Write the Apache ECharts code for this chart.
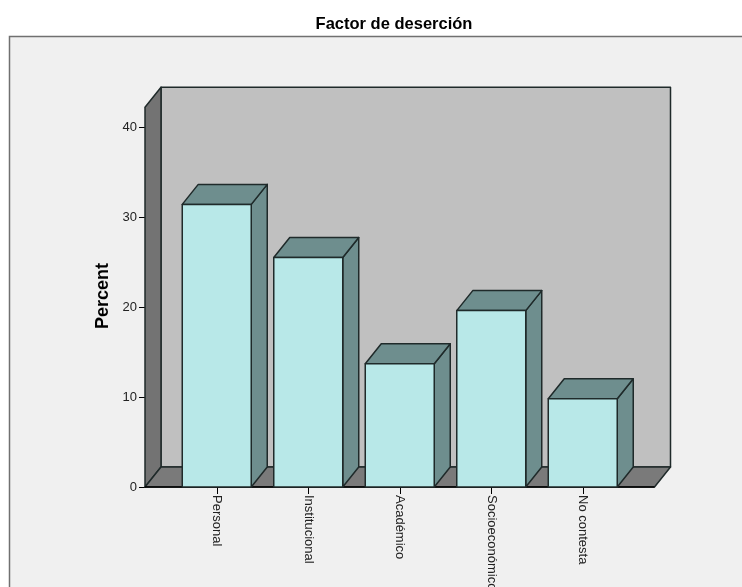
<!DOCTYPE html>
<html>
<head>
<meta charset="utf-8">
<style>
  html, body { margin: 0; padding: 0; background: #fff; overflow: hidden; }
  #main { width: 742px; height: 587px; }
</style>
<script src="https://cdn.jsdelivr.net/npm/echarts@6/dist/echarts.min.js"></script>
</head>
<body>
<div id="main"></div>
<script>
var categories = ["Personal", "Institucional", "Académico", "Socioeconómico", "No contesta"];
var percents = [31.4, 25.5, 13.7, 19.6, 9.8];

// room behind the bars, px
var depthX = 16;
var depthY = 20;
var wallExtra = 26;   // walls stick out past the first / last band
var wallTop = 42.2;
var lineColor = "#1f2a2a";

var chart = echarts.init(document.getElementById("main"));

function poly(points, fill, z2) {
  return {
    type: "polygon",
    z2: z2 || 0,
    shape: { points: points },
    style: { fill: fill, stroke: lineColor, lineWidth: 1.5, lineJoin: "round" }
  };
}

// left wall, back wall and floor, drawn once
function renderWalls(params, api) {
  var start = api.coord([0, 0]);
  var band = api.size([1, 0])[0];
  var top = api.coord([0, wallTop])[1];
  var y0 = start[1];
  var left = start[0] - band / 2 - wallExtra;
  var right = start[0] + band * 4.5 + wallExtra;
  return {
    type: "group",
    children: [
      poly([[left + depthX, top - depthY], [right + depthX, top - depthY], [right + depthX, y0 - depthY], [left + depthX, y0 - depthY]], "#c0c0c0"),
      poly([[left, top], [left + depthX, top - depthY], [left + depthX, y0 - depthY], [left, y0]], "#737373"),
      poly([[left, y0], [left + depthX, y0 - depthY], [right + depthX, y0 - depthY], [right, y0]], "#7a7a7a"),
      { type: "line", shape: { x1: left, y1: y0, x2: right, y2: y0 }, style: { stroke: "#000", lineWidth: 1.5 } }
    ]
  };
}

function renderBox(params, api) {
  var i = api.value(0);
  var p = api.coord([i, api.value(1)]);
  var base = api.coord([i, 0]);
  var w = api.size([1, 0])[0] * 0.754;
  var x0 = p[0] - w / 2;
  var x1 = p[0] + w / 2;
  var side = "#6e8e8e";
  return {
    type: "group",
    children: [
      poly([[x1, p[1]], [x1 + depthX, p[1] - depthY], [x1 + depthX, base[1] - depthY], [x1, base[1]]], side),
      poly([[x0, p[1]], [x0 + depthX, p[1] - depthY], [x1 + depthX, p[1] - depthY], [x1, p[1]]], side),
      poly([[x0, p[1]], [x1, p[1]], [x1, base[1]], [x0, base[1]]], "#b8e8e8")
    ]
  };
}

chart.setOption({
  animation: false,
  backgroundColor: "#fff",
  title: {
    text: "Factor de deserción",
    left: 389,
    top: 11,
    textAlign: "center",
    textStyle: { fontFamily: "Liberation Sans", fontSize: 16.5, fontWeight: "bold", color: "#000" }
  },
  graphic: [{
    type: "rect",
    z: -1,
    silent: true,
    shape: { x: 9.5, y: 36.5, width: 800, height: 700 },
    style: { fill: "#f0f0f0", stroke: "#707070", lineWidth: 1.5 }
  }],
  grid: { left: 171, right: 113.5, top: 127, bottom: 100, outerBoundsMode: "none" },
  xAxis: {
    type: "category",
    data: categories,
    axisLine: { show: false },
    axisTick: { show: true, alignWithLabel: true, length: 7, lineStyle: { color: "#000" } },
    axisLabel: {
      rotate: -90,
      interval: 0,
      margin: 8,
      padding: [3, 0, 0, 0],
      fontFamily: "Liberation Sans",
      fontSize: 13,
      color: "#222"
    }
  },
  yAxis: {
    type: "value",
    min: 0,
    max: 40,
    interval: 10,
    offset: 26,
    name: "Percent",
    nameLocation: "middle",
    nameGap: 32,
    nameTextStyle: { fontFamily: "Liberation Sans", fontSize: 18, fontWeight: "bold", color: "#000", padding: [0, 0, 0, 22] },
    splitLine: { show: false },
    axisLine: { show: false },
    axisTick: { show: true, length: 6, lineStyle: { color: "#000" } },
    axisLabel: { margin: 8, fontFamily: "Liberation Sans", fontSize: 13, color: "#222" }
  },
  series: [
    {
      type: "custom",
      clip: false,
      silent: true,
      z: 1,
      renderItem: renderWalls,
      data: [[0, 0]]
    },
    {
      type: "custom",
      clip: false,
      z: 2,
      renderItem: renderBox,
      encode: { x: 0, y: 1 },
      data: percents.map(function (v, i) { return [i, v]; })
    }
  ]
});
</script>
</body>
</html>
